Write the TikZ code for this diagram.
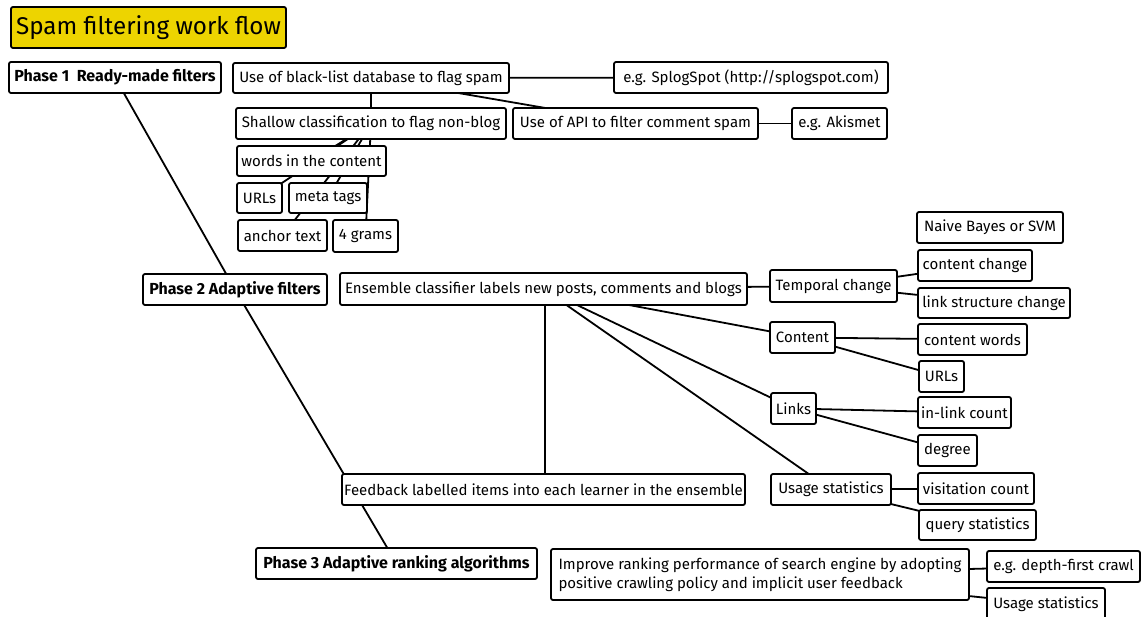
\documentclass[tikz,border=0pt]{standalone}
\usepackage{fontspec}
\setmainfont{Fira Sans}
\usetikzlibrary{backgrounds}
\definecolor{titleyellow}{RGB}{237,212,0}
\tikzset{
  box/.style={draw, line width=1.8pt, rounded corners=2pt, fill=white,
    inner sep=0pt, text=black, font=\fontsize{15}{18}\selectfont},
  phase/.style={box, font=\fontsize{16}{19}\selectfont\bfseries},
  titlebox/.style={box, fill=titleyellow, font=\fontsize{24.2}{28}\selectfont},
  twoline/.style={box, align=left, font=\fontsize{15}{19}\selectfont},
  link/.style={line width=1.8pt}
}
% \mnode[style]{name}{left}{top}{right}{bottom}{text}
\newcommand\mnode[7][box]{%
  \node[#1, minimum width={#5-#3}, minimum height={#6-#4}] (#2)
    at ({(#3+#5)/2},{(#4+#6)/2}) {#7};}
\begin{document}
\begin{tikzpicture}[x=1pt, y=-1pt]
\useasboundingbox (0,0) rectangle (1142,617);

\mnode[titlebox]{title}{11}{7}{286}{48}{Spam filtering work flow}

% Phase 1
\mnode[phase]{p1}{9}{62}{221}{93}{Phase 1\ \ Ready-made filters}
\mnode{bl}{233}{63}{509}{93}{Use of black-list database to flag spam}
\mnode{splog}{614}{62}{888}{93}{e.g. SplogSpot (http://splogspot.com)}
\mnode{shallow}{236}{108}{506}{139}{Shallow classification to flag non-blog}
\mnode{api}{513}{108}{758}{139}{Use of API to filter comment spam}
\mnode{akismet}{792}{108}{887}{139}{e.g. Akismet}
\mnode{words}{237}{146}{386}{176}{words in the content}
\mnode{urlsa}{237}{183}{282}{213}{URLs}
\mnode{meta}{289}{183}{367}{213}{meta tags}
\mnode{anchor}{238}{220}{327}{251}{anchor text}
\mnode{grams}{333}{220}{398}{252}{4 grams}

% Phase 2
\mnode[phase]{p2}{143}{274}{327}{305}{Phase 2 Adaptive filters}
\mnode{ens}{340}{273}{747}{305}{Ensemble classifier labels new posts, comments and blogs}
\mnode{temporal}{770}{270}{897}{302}{Temporal change}
\mnode{naive}{917}{212}{1063}{243}{Naive Bayes or SVM}
\mnode{cchange}{918}{250}{1032}{281}{content change}
\mnode{lschange}{918}{288}{1070}{318}{link structure change}
\mnode{content}{770}{322}{835}{353}{Content}
\mnode{cwords}{918}{324}{1027}{355}{content words}
\mnode{urlsb}{919}{361}{964}{392}{URLs}
\mnode{links}{771}{393}{816}{424}{Links}
\mnode{inlink}{918}{397}{1011}{428}{in-link count}
\mnode{degree}{918}{435}{977}{466}{degree}
\mnode{usage}{771}{474}{891}{505}{Usage statistics}
\mnode{visit}{918}{473}{1034}{504}{visitation count}
\mnode{query}{919}{510}{1036}{540}{query statistics}
\mnode{feedback}{342}{474}{745}{505}{Feedback labelled items into each learner in the ensemble}

% Phase 3
\mnode[phase]{p3}{256}{548}{537}{579}{Phase 3 Adaptive ranking algorithms}
\mnode[twoline]{improve}{551}{549}{969}{600}{Improve ranking performance of search engine by adopting\\positive crawling policy and implicit user feedback}
\mnode{depth}{987}{551}{1140}{582}{e.g. depth-first crawl}
\mnode{usageb}{987}{588}{1105}{620}{Usage statistics}

% connectors run centre to centre behind the boxes
\begin{pgfonlayer}{background}
\foreach \a/\b in {p1/p2, p2/p3,
    bl/splog, bl/shallow, bl/api, api/akismet,
    shallow/words, shallow/urlsa, shallow/meta, shallow/anchor, shallow/grams,
    ens/temporal, ens/content, ens/links, ens/usage,
    temporal/cchange, temporal/lschange, content/cwords, content/urlsb,
    links/inlink, links/degree, usage/visit, usage/query,
    improve/depth, improve/usageb}
  \draw[link] (\a.center) -- (\b.center);
% vertical feedback link, set on a whole pixel column
\draw[link] ([xshift=1.5pt]ens.center) -- ([xshift=1.5pt]feedback.center);
\end{pgfonlayer}
\end{tikzpicture}
\end{document}
